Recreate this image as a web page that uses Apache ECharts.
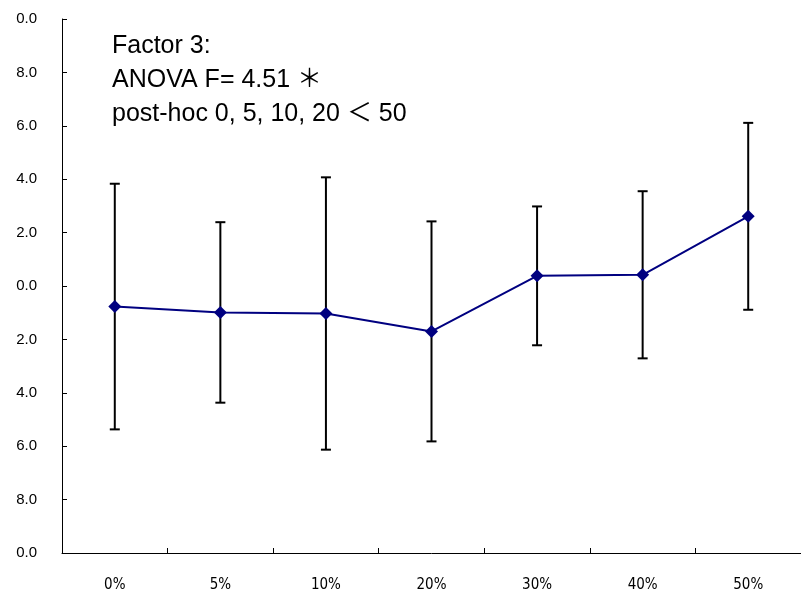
<!DOCTYPE html>
<html>
<head>
<meta charset="utf-8">
<script src="https://cdn.jsdelivr.net/npm/echarts@6/dist/echarts.min.js"></script>
<style>
  html, body { margin: 0; padding: 0; background: #ffffff; }
  #chart { width: 801px; height: 600px; }
</style>
</head>
<body>
<div id="chart"></div>
<script>
// Groups along the x axis
const categories = ['0%', '5%', '10%', '20%', '30%', '40%', '50%'];
// Group means and standard deviations
const means = [-0.77, -0.99, -1.03, -1.70, 0.38, 0.42, 2.61];
const sds = [4.60, 3.38, 5.10, 4.12, 2.60, 3.13, 3.50];
// Y tick values (bottom to top) and the text printed at each
const yTickValues = [-10, -8, -6, -4, -2, 0, 2, 4, 6, 8, 10];
const yTickLabels = ['0.0', '8.0', '6.0', '4.0', '2.0', '0.0', '2.0', '4.0', '6.0', '8.0', '0.0'];
// Annotation lines
const noteLines = ['Factor 3:', 'ANOVA F= 4.51 ＊', 'post-hoc 0, 5, 10, 20 ＜ 50'];

const errorData = categories.map((c, i) => [i, means[i] - sds[i], means[i] + sds[i]]);

const chart = echarts.init(document.getElementById('chart'), null, { renderer: 'canvas' });

chart.setOption({
  backgroundColor: '#ffffff',
  animation: false,
  title: {
    text: noteLines.join('\n'),
    left: 107,
    top: 24,
    textStyle: {
      fontFamily: '"Liberation Sans", Arial, "Noto Sans CJK JP", sans-serif',
      fontSize: 25,
      fontWeight: 'normal',
      color: '#000000',
      lineHeight: 34
    }
  },
  grid: { left: 62, right: -11, top: 19, bottom: 47, containLabel: false },
  xAxis: {
    type: 'category',
    data: categories,
    boundaryGap: true,
    axisLine: { show: true, onZero: false, lineStyle: { color: '#000000', width: 1 } },
    axisTick: { show: true, inside: true, length: 5, lineStyle: { color: '#000000' } },
    axisLabel: {
      margin: 25,
      fontFamily: '"DejaVu Sans Condensed", "Liberation Sans Narrow", "Liberation Sans", sans-serif',
      fontSize: 15,
      color: '#000000'
    },
    splitLine: { show: false }
  },
  yAxis: {
    type: 'value',
    min: -10,
    max: 10,
    interval: 2,
    axisLine: { show: true, onZero: false, lineStyle: { color: '#000000', width: 1 } },
    axisTick: { show: true, inside: true, length: 5, lineStyle: { color: '#000000' } },
    axisLabel: {
      margin: 25,
      fontFamily: '"Liberation Sans", Arial, sans-serif',
      fontSize: 15,
      color: '#000000',
      formatter: function (v) {
        const idx = yTickValues.indexOf(Math.round(v));
        return idx >= 0 ? yTickLabels[idx] : '';
      }
    },
    splitLine: { show: false }
  },
  series: [
    {
      type: 'custom',
      name: 'sd',
      z: 1,
      data: errorData,
      renderItem: function (params, api) {
        const x = api.value(0);
        const lo = api.coord([x, api.value(1)]);
        const hi = api.coord([x, api.value(2)]);
        const half = 5;
        const style = { stroke: '#000000', lineWidth: 2 };
        return {
          type: 'group',
          children: [
            { type: 'line', shape: { x1: hi[0], y1: hi[1], x2: lo[0], y2: lo[1] }, style: style },
            { type: 'line', shape: { x1: hi[0] - half, y1: hi[1], x2: hi[0] + half, y2: hi[1] }, style: style },
            { type: 'line', shape: { x1: lo[0] - half, y1: lo[1], x2: lo[0] + half, y2: lo[1] }, style: style }
          ]
        };
      },
      encode: { x: 0, y: [1, 2] }
    },
    {
      type: 'line',
      name: 'mean',
      z: 3,
      data: means,
      symbol: 'diamond',
      symbolSize: 13,
      lineStyle: { color: '#000080', width: 2 },
      itemStyle: { color: '#000080' }
    }
  ]
});
</script>
</body>
</html>
